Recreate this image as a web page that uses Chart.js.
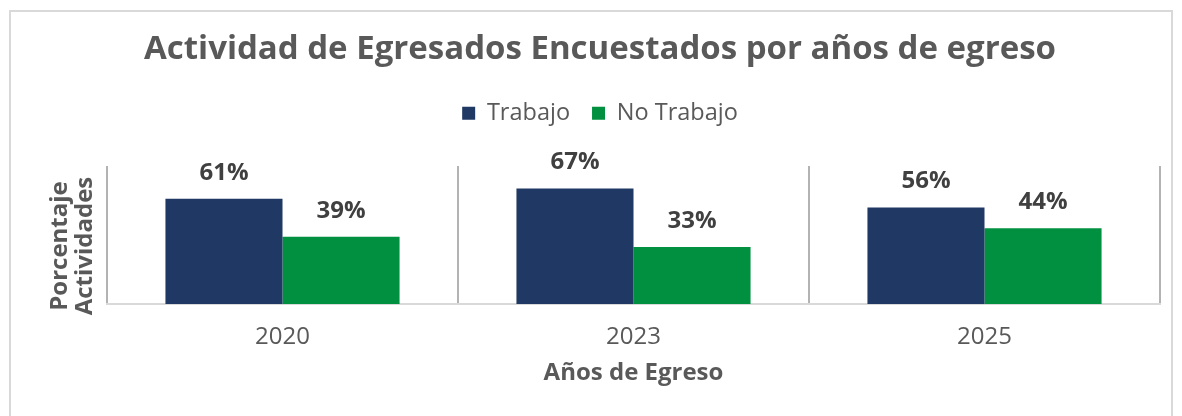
<!DOCTYPE html>
<html><head><meta charset="utf-8">
<script src="https://cdn.jsdelivr.net/npm/chart.js@4/dist/chart.umd.min.js"></script>
<style>
html,body{margin:0;padding:0;background:#fff;}
#wrap{position:absolute;left:0;top:0;width:1182px;height:416px;}
#frame{position:absolute;left:9px;top:10px;width:1164px;height:420px;border:2px solid #d9d9d9;box-sizing:border-box;pointer-events:none;}
</style></head>
<body>
<div id="wrap"><canvas id="c" width="1182" height="416"></canvas></div>
<div id="frame"></div>
<script>
const categories = ['2020', '2023', '2025'];
const trabajo = [61, 67, 56];
const noTrabajo = [39, 33, 44];
const seriesNames = ['Trabajo', 'No Trabajo'];
const titleText = 'Actividad de Egresados Encuestados por años de egreso';
const yTitle = ['Porcentaje', 'Actividades'];
const xTitle = 'Años de Egreso';

const FONT = "'Open Sans', 'DejaVu Sans', sans-serif";

const labelPlugin = {
  id: 'barLabels',
  afterDatasetsDraw(chart) {
    const ctx = chart.ctx;
    ctx.save();
    ctx.font = "bold 24px " + FONT;
    ctx.fillStyle = '#404040';
    ctx.textAlign = 'center';
    ctx.textBaseline = 'middle';
    chart.data.datasets.forEach((ds, i) => {
      chart.getDatasetMeta(i).data.forEach((bar, j) => {
        ctx.fillText(ds.data[j] + '%', bar.x, bar.y - 26);
      });
    });
    ctx.restore();
  }
};

const yTitlePlugin = {
  id: 'yTitle',
  afterDraw(chart) {
    const ctx = chart.ctx;
    ctx.save();
    ctx.font = "bold 24px " + FONT;
    ctx.fillStyle = '#595959';
    ctx.textAlign = 'center';
    ctx.textBaseline = 'middle';
    const cy = 246;
    [60, 85].forEach((x, i) => {
      ctx.save();
      ctx.translate(x, cy);
      ctx.rotate(-Math.PI / 2);
      ctx.fillText(yTitle[i], 0, 0);
      ctx.restore();
    });
    ctx.restore();
  }
};

const legendSpace = {
  id: 'legendSpace',
  beforeLayout(chart) {
    const lg = chart.legend;
    if (lg && !lg._patched) {
      const orig = lg.fit.bind(lg);
      lg.fit = function () { orig(); this.height += 31; };
      lg._patched = true;
    }
  }
};

new Chart(document.getElementById('c'), {
  type: 'bar',
  data: {
    labels: categories,
    datasets: [
      { label: seriesNames[0], data: trabajo, backgroundColor: '#203864', borderWidth: 0 },
      { label: seriesNames[1], data: noTrabajo, backgroundColor: '#00903f', borderWidth: 0 }
    ]
  },
  options: {
    responsive: false,
    animation: false,
    devicePixelRatio: 1,
    layout: { padding: { left: 40, right: 22, top: 30, bottom: 28 } },
    datasets: { bar: { categoryPercentage: 0.667, barPercentage: 1.0 } },
    plugins: {
      tooltip: { enabled: false },
      title: {
        display: true, text: titleText, color: '#595959',
        font: { family: FONT, size: 33, weight: 'bold' },
        padding: { top: 0, bottom: 10 }
      },
      legend: {
        display: true, position: 'top',
        labels: {
          color: '#595959', font: { family: FONT, size: 23.5 },
          boxWidth: 13, boxHeight: 13, padding: 22
        }
      }
    },
    scales: {
      x: {
        offset: true,
        grid: { display: true, offset: true, color: '#b3b3b3', lineWidth: 2, drawTicks: false },
        border: { display: true, color: '#d9d9d9', width: 2 },
        ticks: { color: '#595959', font: { family: FONT, size: 24 }, padding: 19 },
        title: { display: true, text: xTitle, color: '#595959', font: { family: FONT, size: 24, weight: 'bold' }, padding: { top: 0, bottom: 0 } },
        afterFit(scale) { scale.height = 84; }
      },
      y: {
        min: 0, max: 80,
        grid: { display: false },
        border: { display: false },
        ticks: { display: false },
        afterFit(scale) { scale.width = 67; }
      }
    }
  },
  plugins: [labelPlugin, yTitlePlugin, legendSpace]
});
</script>
</body></html>
